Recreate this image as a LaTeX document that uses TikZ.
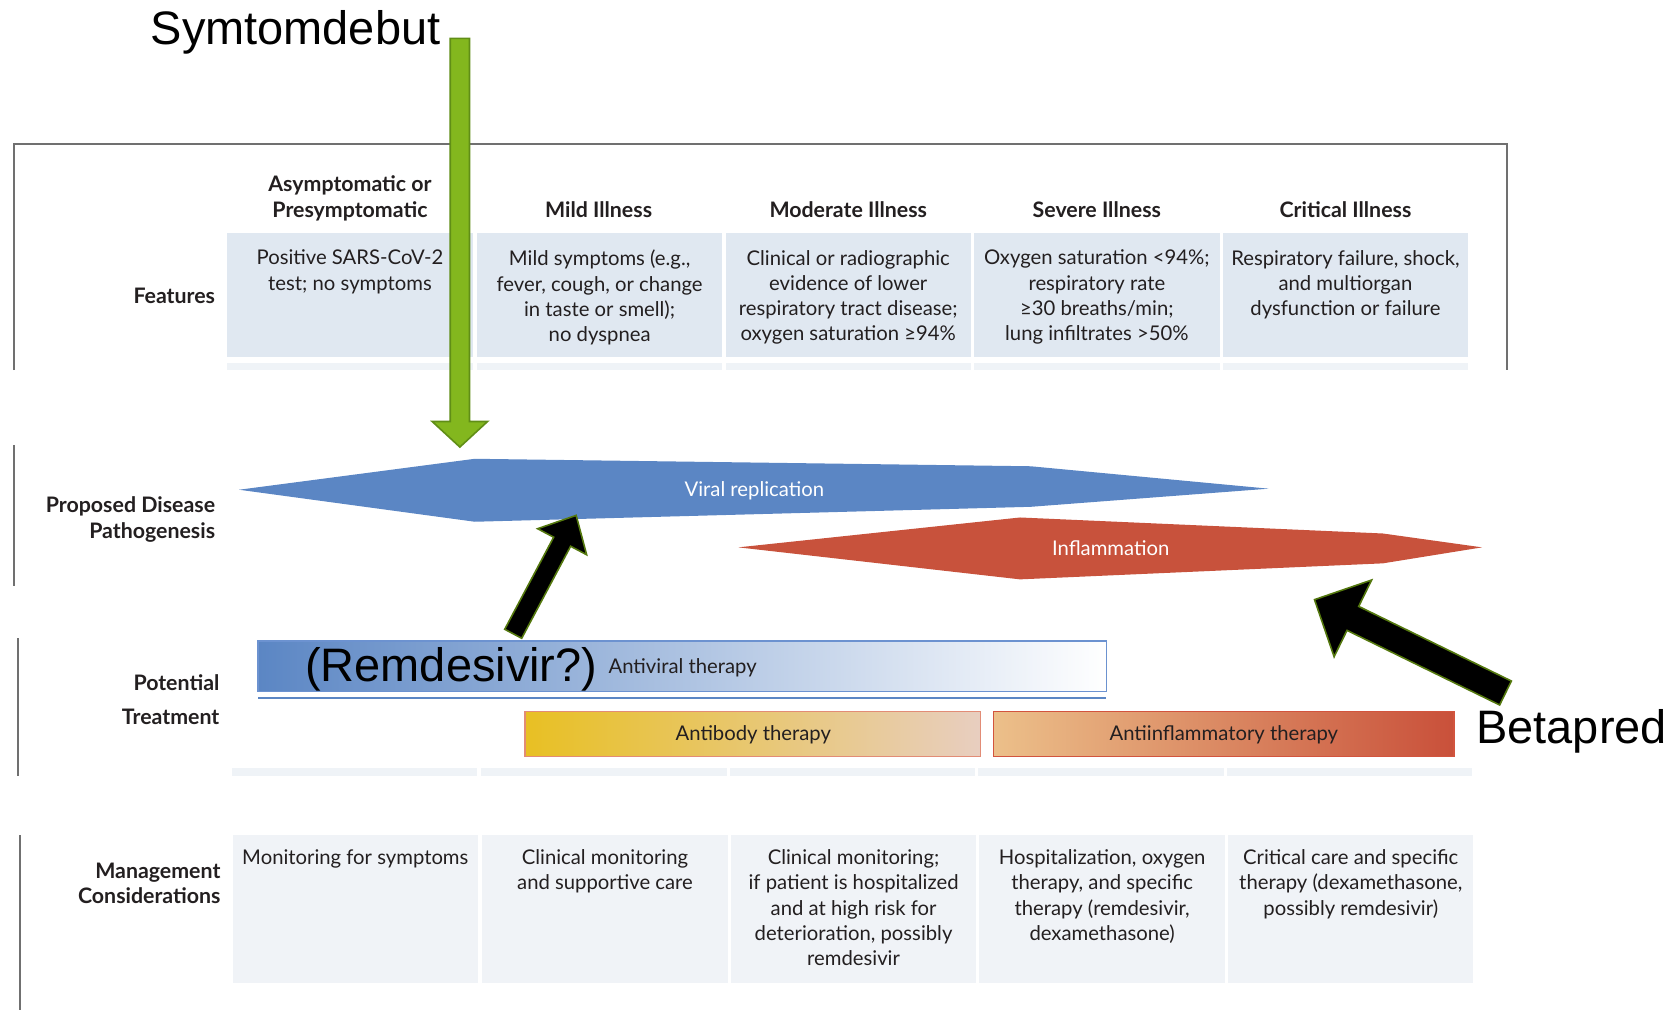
\documentclass[tikz,border=0pt]{standalone}
\usepackage{fontspec}
\setmainfont{Lato}
\newfontfamily\arialf{Liberation Sans}
\usetikzlibrary{calc}
\definecolor{framegray}{RGB}{112,112,112}
\definecolor{featbg}{RGB}{224,232,241}
\definecolor{stripbg}{RGB}{239,243,247}
\definecolor{mgmtbg}{RGB}{240,243,247}
\definecolor{vblue}{RGB}{91,134,196}
\definecolor{avmid}{RGB}{160,181,223}
\definecolor{ired}{RGB}{200,82,60}
\definecolor{avborder}{RGB}{108,146,208}
\definecolor{abyellow}{RGB}{232,192,35}
\definecolor{abpink}{RGB}{232,206,192}
\definecolor{abborder}{RGB}{226,140,118}
\definecolor{aiorange}{RGB}{236,192,138}
\definecolor{aired}{RGB}{201,80,58}
\definecolor{aiborder}{RGB}{210,84,62}
\definecolor{txt}{RGB}{35,31,32}
\definecolor{symgreen}{RGB}{131,183,30}
\definecolor{symgreenline}{RGB}{96,142,22}
\definecolor{arrline}{RGB}{84,120,14}
% block arrow: #1 style, #2 tail, #3 tip, #4 shaft half, #5 head length, #6 head half
\newcommand\blkarrow[6]{%
  \coordinate (#2-#3-b) at ($(#3)!#5!(#2)$);
  \draw[#1] ($(#2)!#4!90:(#3)$) -- ($(#2-#3-b)!#4!90:(#3)$) -- ($(#2-#3-b)!#6!90:(#3)$)
    -- (#3) -- ($(#2-#3-b)!#6!-90:(#3)$) -- ($(#2-#3-b)!#4!-90:(#3)$) -- ($(#2)!#4!-90:(#3)$) -- cycle;
}
\begin{document}
\begin{tikzpicture}[x=0.5pt,y=-0.5pt,
  frameline/.style={draw=framegray,line width=1pt},
  cell/.style={inner sep=0,outer sep=0,anchor=north west,minimum width=115pt},
  fcell/.style={cell,fill=featbg,minimum height=58.5pt},
  scell/.style={cell,fill=stripbg,minimum height=3.5pt},
  mcell/.style={cell,fill=mgmtbg,minimum height=69pt},
  body/.style={font=\fontsize{9.5pt}{11.85pt}\selectfont,text=txt,align=center,inner sep=0,anchor=north},
  head/.style={font=\fontsize{10pt}{12.5pt}\selectfont\bfseries,text=txt,align=center,inner sep=0,anchor=north},
  lab/.style={font=\fontsize{10pt}{12.5pt}\selectfont\bfseries,text=txt,align=right,inner sep=0,anchor=east},
  shapetext/.style={font=\fontsize{9.5pt}{11pt}\selectfont,text=white,inner sep=0},
  treattext/.style={font=\fontsize{9.5pt}{11pt}\selectfont,text=txt,inner sep=0},
  big/.style={font=\arialf\fontsize{22pt}{24pt}\selectfont,text=black,inner sep=0,anchor=base},
  blackarrow/.style={fill=black,draw=arrline,line width=0.75pt,line join=miter},
  greenarrow/.style={fill=symgreen,draw=symgreenline,line width=0.75pt,line join=miter}
]
\useasboundingbox (0,0) rectangle (1568,947);

% frame and row rules
\draw[frameline] (13,347) -- (13,135) -- (1412,135) -- (1412,347);
\draw[frameline] (13,417) -- (13,549);
\draw[frameline] (17,598) -- (17,727);
\draw[frameline] (19,783) -- (19,947);

% feature cells
\foreach \x [count=\i] in {213,447,680,913,1146} {
  \node[fcell] (f\i) at (\x,218) {};
  \node[scell] (s\i) at (\x,340) {};
}
\foreach \x [count=\i] in {217,451,684,917,1150} {
  \node[scell] (t\i) at (\x,720) {};
}
\foreach \x [count=\i] in {218,452,685,918,1151} {
  \node[mcell] (m\i) at (\x,783) {};
}

% headers
\node[head] (h1) at (328,164) {Asymptomatic or\\Presymptomatic};
\node[head] (h2) at (561,189) {Mild Illness};
\node[head] (h3) at (795,189) {Moderate Illness};
\node[head] (h4) at (1028,189) {Severe Illness};
\node[head] (h5) at (1261,189) {Critical Illness};

% row labels
\node[lab] (lf) at (202,277) {Features};
\node[lab] (lp) at (202,487) {Proposed Disease\\Pathogenesis};
\node[lab,font=\fontsize{10pt}{16pt}\selectfont\bfseries] (lt) at (206,656) {Potential\\Treatment};
\node[lab,font=\fontsize{10pt}{12pt}\selectfont\bfseries] (lm) at (207,828) {Management\\Considerations};

% feature texts
\node[body] (ft1) at ([yshift=-8pt]f1.north) {Positive SARS-CoV-2\\test; no symptoms};
\node[body] (ft2) at ([yshift=-8pt]f2.north) {Mild symptoms (e.g.,\\fever, cough, or change\\in taste or smell);\\no dyspnea};
\node[body] (ft3) at ([yshift=-8pt]f3.north) {Clinical or radiographic\\evidence of lower\\respiratory tract disease;\\oxygen saturation ≥94\%};
\node[body] (ft4) at ([yshift=-8pt]f4.north) {Oxygen saturation <94\%;\\respiratory rate\\≥30 breaths/min;\\lung infiltrates >50\%};
\node[body] (ft5) at ([yshift=-8pt]f5.north) {Respiratory failure, shock,\\and multiorgan\\dysfunction or failure};

% management texts
\node[body] (mt1) at ([yshift=-6.5pt]m1.north) {Monitoring for symptoms};
\node[body] (mt2) at ([yshift=-6.5pt]m2.north) {Clinical monitoring\\and supportive care};
\node[body] (mt3) at ([yshift=-6.5pt]m3.north) {Clinical monitoring;\\if patient is hospitalized\\and at high risk for\\deterioration, possibly\\remdesivir};
\node[body] (mt4) at ([yshift=-6.5pt]m4.north) {Hospitalization, oxygen\\therapy, and specific\\therapy (remdesivir,\\dexamethasone)};
\node[body] (mt5) at ([yshift=-6.5pt]m5.north) {Critical care and specific\\therapy (dexamethasone,\\possibly remdesivir)};

% pathogenesis shapes
\fill[vblue] (224,459) -- (445,430) -- (966,437) -- (1189,458) -- (966,475) -- (445,489) -- cycle;
\node[shapetext] (vr) at (707,460) {Viral replication};
\fill[ired] (692,513) -- (956,485) -- (1296,500) -- (1389,513) -- (1296,528) -- (956,543) -- cycle;
\node[shapetext] (infl) at (1041,514) {Inflammation};

% treatment boxes
\path[left color=vblue,middle color=avmid,right color=white,draw=avborder,line width=0.75pt] (242,601) rectangle (1037,648);
\draw[draw=vblue,line width=1pt] (242,654) -- (1037,654);
\node[treattext,anchor=west] (av) at (570,626) {Antiviral therapy};
\path[left color=abyellow,right color=abpink,draw=abborder,line width=0.75pt] (492,667) rectangle (919,709);
\node[treattext] (ab) at (706,689) {Antibody therapy};
\path[left color=aiorange,right color=aired,draw=aiborder,line width=0.75pt] (931,667) rectangle (1363,709);
\node[treattext] (ai) at (1147,689) {Antiinflammatory therapy};

% annotations
\node[big] (sym) at (277,42) {Symtomdebut};
\node[big] (rem) at (423,639) {(Remdesivir?)};
\node[big] (bet) at (1473,697) {Betapred};

\coordinate (gtail) at (431,36);
\coordinate (gtip) at (431,419);
\blkarrow{greenarrow}{gtail}{gtip}{4.5pt}{12pt}{13pt}
\coordinate (atail) at (481,594);
\coordinate (atip) at (540,483);
\blkarrow{blackarrow}{atail}{atip}{4.5pt}{14pt}{13pt}
\coordinate (btail) at (1411,649.5);
\coordinate (btip) at (1232,562);
\blkarrow{blackarrow}{btail}{btip}{6.25pt}{20pt}{20pt}
\end{tikzpicture}
\end{document}
